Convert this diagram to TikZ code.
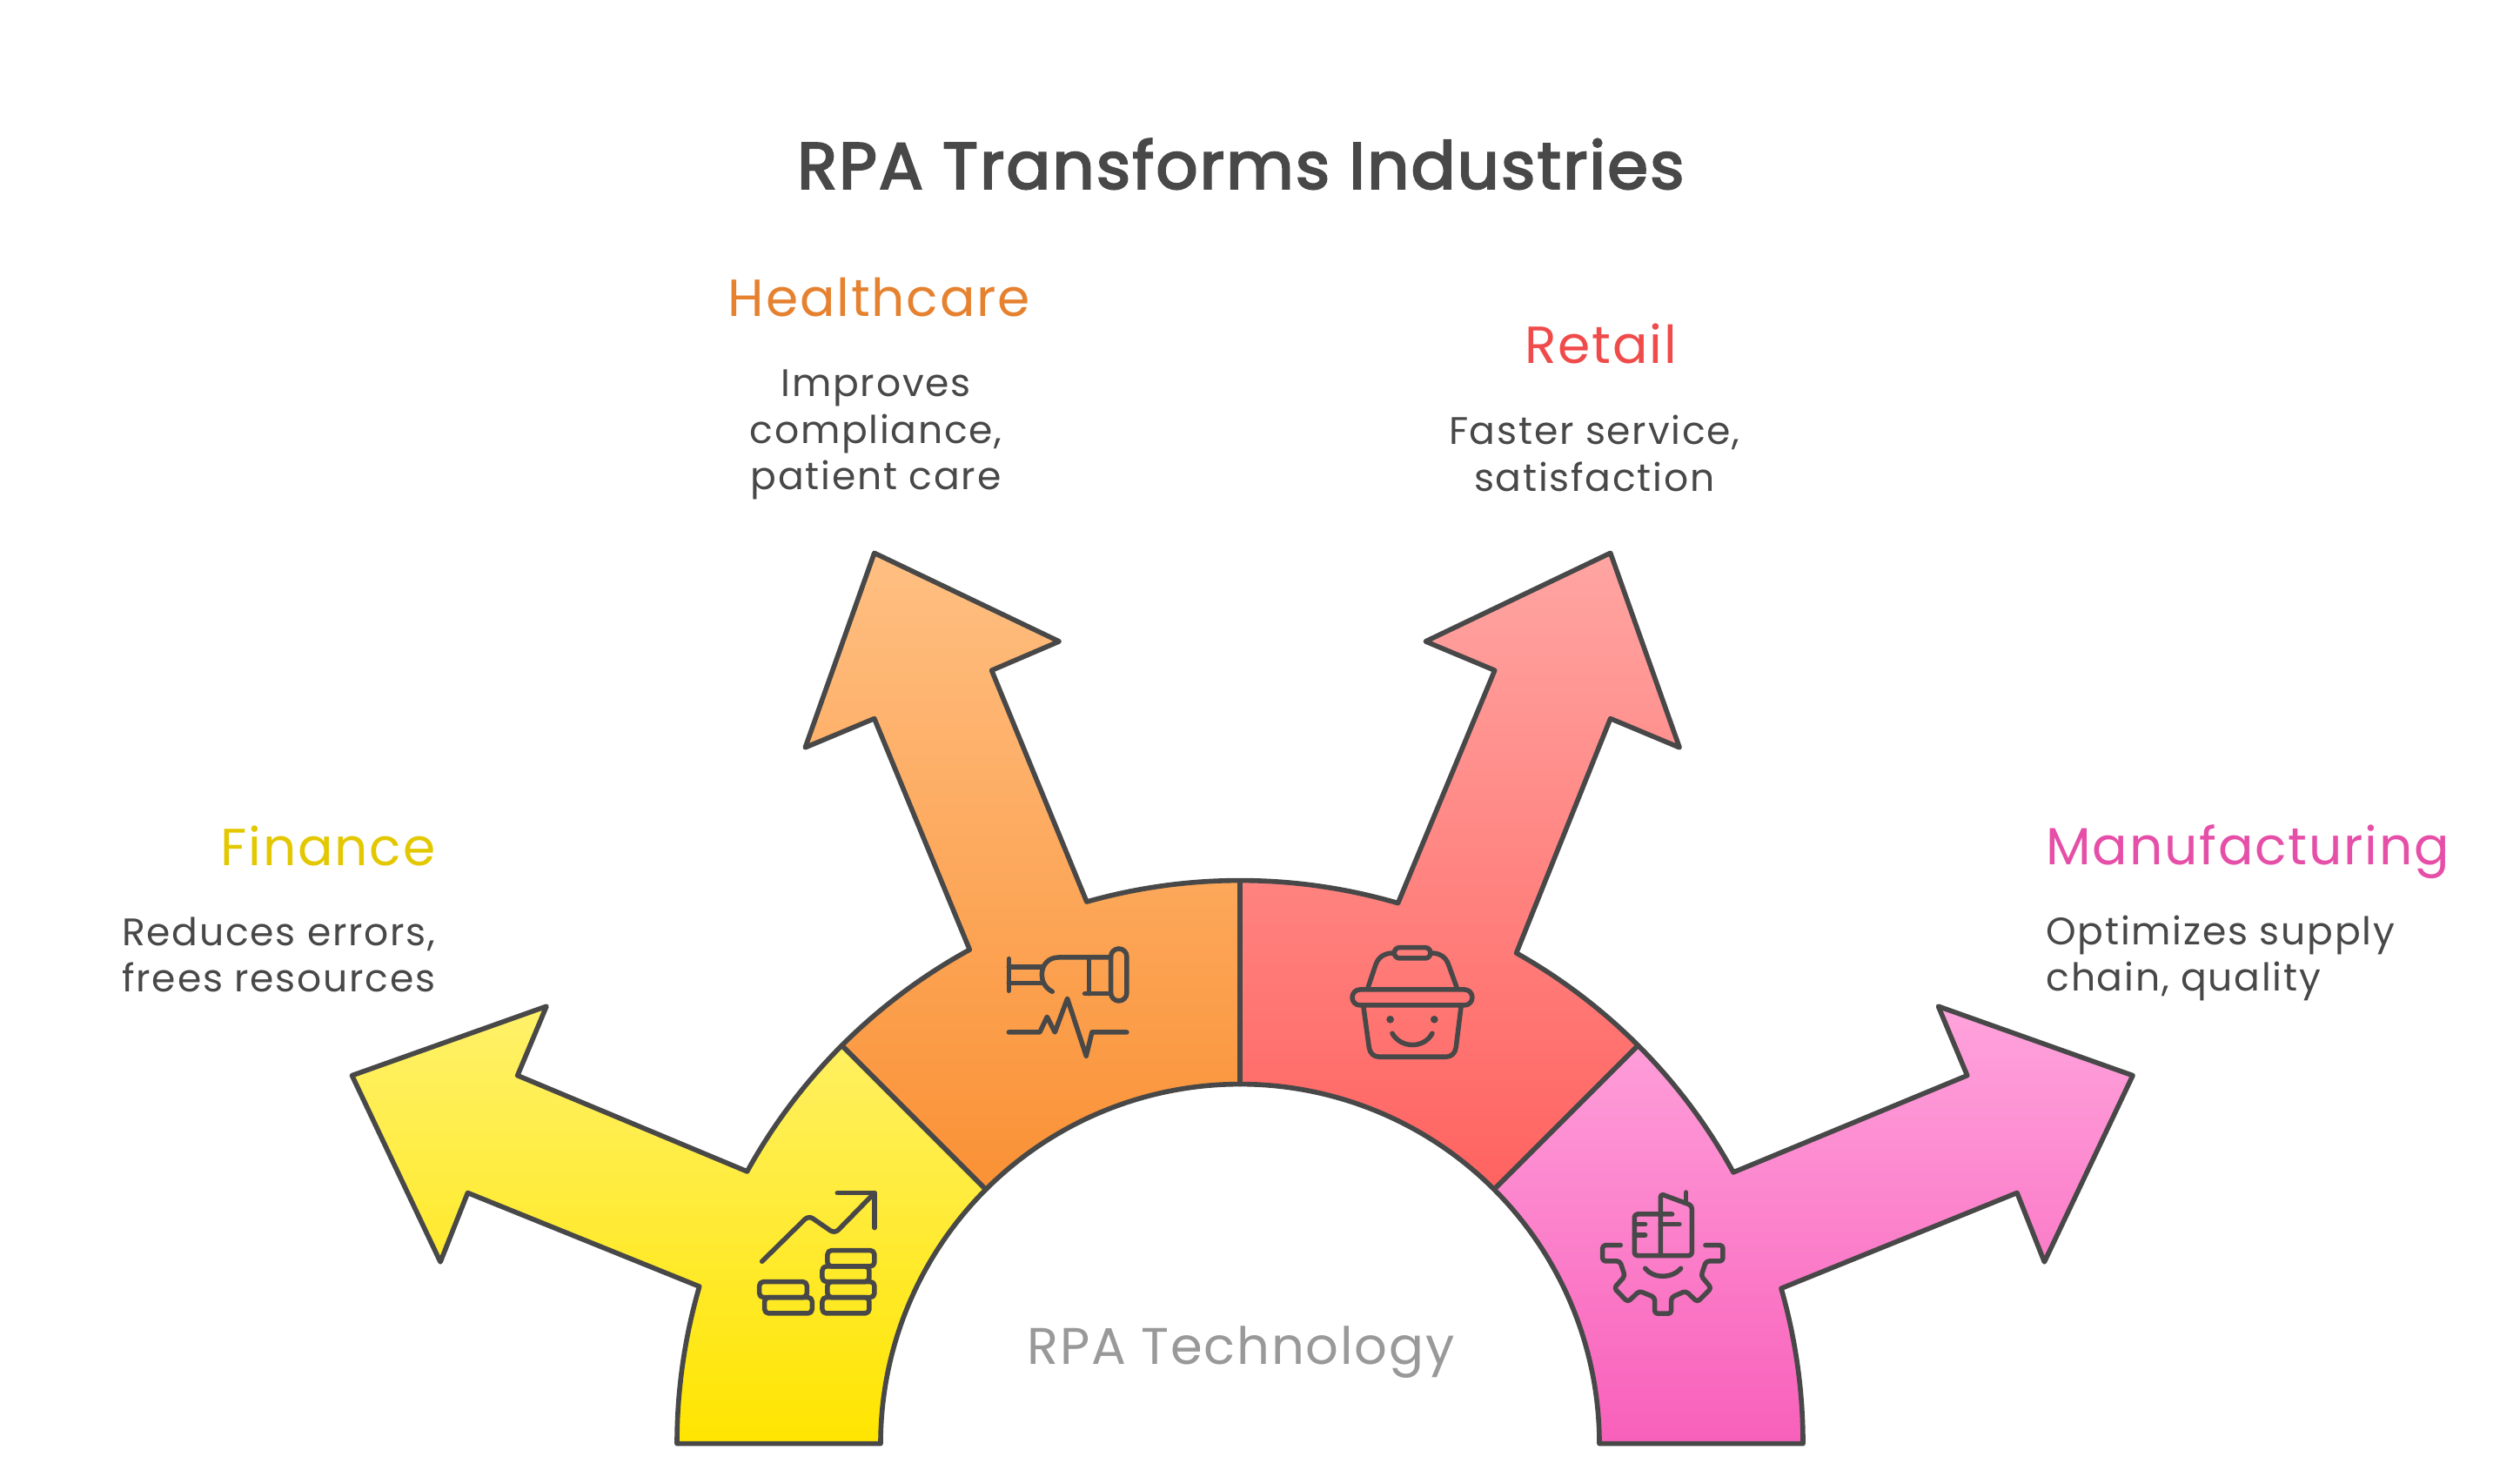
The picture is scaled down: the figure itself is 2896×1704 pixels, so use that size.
\documentclass[tikz,border=0pt]{standalone}
\usepackage{fontspec}
\setmainfont{Poppins}
\newfontfamily\titlef[FakeBold=3,LetterSpace=3]{Poppins}
\newfontfamily\headf[LetterSpace=3]{Poppins}
\newfontfamily\descf[LetterSpace=4]{Poppins}
\definecolor{ink}{HTML}{484848}
\definecolor{greyt}{HTML}{999999}
\definecolor{yellowt}{HTML}{E3C800}
\definecolor{oranget}{HTML}{E5812F}
\definecolor{redt}{HTML}{F04B4B}
\definecolor{pinkt}{HTML}{E64FA8}
\definecolor{yt}{HTML}{FFF16A}\definecolor{yb}{HTML}{FFE500}
\definecolor{ot}{HTML}{FFBF82}\definecolor{ob}{HTML}{FA9135}
\definecolor{rt}{HTML}{FFA5A2}\definecolor{rb}{HTML}{FF6360}
\definecolor{pt}{HTML}{FFA3DC}\definecolor{pb}{HTML}{F860BA}
\tikzset{
  piece/.style={draw=ink,line width=4.8pt,line join=round},
  icon/.style={draw=ink,line width=4.7pt,line join=round,line cap=round},
  heading/.style={inner sep=0pt,font=\headf\fontsize{51.2}{55}\selectfont},
  desc/.style={inner sep=0pt,text=ink,font=\descf\fontsize{37.6}{45.7}\selectfont},
}
\def\s{1.847}
\begin{document}
\begin{tikzpicture}[x=0.03cm,y=0.03cm]
\useasboundingbox (0,0) rectangle (2896,1704);
\fill[white] (0,0) rectangle (2896,1704);
% arrow outline points (reference position, scaled)
\coordinate (f1) at ({\s*291},{1704-\s*742});
\coordinate (f2) at ({\s*274},{1704-\s*785});
\coordinate (f3) at ({\s*219},{1704-\s*669});
\coordinate (f4) at ({\s*340},{1704-\s*626});
\coordinate (f5) at ({\s*322},{1704-\s*669});
\coordinate (h1) at ({\s*544},{1704-\s*447});
\coordinate (h2) at ({\s*501},{1704-\s*465});
\coordinate (h3) at ({\s*544},{1704-\s*344});
\coordinate (h4) at ({\s*659},{1704-\s*399});
\coordinate (h5) at ({\s*617},{1704-\s*417});
\coordinate (r1) at ({\s*930},{1704-\s*417});
\coordinate (r2) at ({\s*887},{1704-\s*399});
\coordinate (r3) at ({\s*1002},{1704-\s*344});
\coordinate (r4) at ({\s*1045},{1704-\s*465});
\coordinate (r5) at ({\s*1002},{1704-\s*447});
\coordinate (m1) at ({\s*1224},{1704-\s*669});
\coordinate (m2) at ({\s*1206},{1704-\s*626});
\coordinate (m3) at ({\s*1327},{1704-\s*669});
\coordinate (m4) at ({\s*1272},{1704-\s*785});
\coordinate (m5) at ({\s*1255},{1704-\s*742});
\begin{scope}[shift={(1425,45.4)}]
\draw[piece,top color=yt,bottom color=yb]
  (180:647) arc[start angle=180,end angle=163.8,radius=647]
  -- (f1) -- (f2) -- (f3) -- (f4) -- (f5)
  -- (151.1:647) arc[start angle=151.1,end angle=135,radius=647]
  -- (135:413) arc[start angle=135,end angle=180,radius=413] -- cycle;
\draw[piece,top color=ot,bottom color=ob]
  (135:647) arc[start angle=135,end angle=118.7,radius=647]
  -- (h1) -- (h2) -- (h3) -- (h4) -- (h5)
  -- (105.8:647) arc[start angle=105.8,end angle=90,radius=647]
  -- (90:413) arc[start angle=90,end angle=135,radius=413] -- cycle;
\draw[piece,top color=rt,bottom color=rb]
  (90:647) arc[start angle=90,end angle=73.7,radius=647]
  -- (r1) -- (r2) -- (r3) -- (r4) -- (r5)
  -- (60.6:647) arc[start angle=60.6,end angle=45,radius=647]
  -- (45:413) arc[start angle=45,end angle=90,radius=413] -- cycle;
\draw[piece,top color=pt,bottom color=pb]
  (45:647) arc[start angle=45,end angle=28.8,radius=647]
  -- (m1) -- (m2) -- (m3) -- (m4) -- (m5)
  -- (16:647) arc[start angle=16,end angle=0,radius=647]
  -- (0:413) arc[start angle=0,end angle=45,radius=413] -- cycle;
\end{scope}
% finance icon
\begin{scope}[shift={(840,364)},x=0.01cm,y=-0.01cm]
\draw[icon,rounded corners=5pt] (107,328) -- (268,170) -- (358,232) -- (495,92);
\draw[icon] (367,92) -- (495,92) -- (495,212);
\draw[icon,rounded corners=4pt] (333,290) rectangle (495,345);
\draw[icon,rounded corners=4pt] (315,345) rectangle (477,398);
\draw[icon,rounded corners=4pt] (333,398) rectangle (495,452);
\draw[icon,rounded corners=4pt] (315,452) rectangle (477,507);
\draw[icon,rounded corners=4pt] (98,398) rectangle (262,452);
\draw[icon,rounded corners=4pt] (116,452) rectangle (280,507);
\end{scope}
% healthcare icon
\begin{scope}[shift={(1100,654)},x=0.01cm,y=-0.01cm]
\draw[icon] (178,155) -- (178,265) (178,183) -- (295,183) (178,238) -- (295,238);
\draw[icon] (328,268) .. controls (303,255) and (292,232) .. (292,210) .. controls (292,175) and (315,150) .. (350,150) -- (530,150);
\draw[icon] (455,150) -- (455,275) (440,275) -- (530,275);
\draw[icon,rounded corners=7.8pt] (530,120) rectangle (585,300);
\draw[icon] (178,408) -- (285,408) -- (310,355) -- (337,408) -- (380,292) -- (445,490) -- (465,408) -- (585,408);
\end{scope}
% retail icon
\begin{scope}[shift={(1520,644)},x=0.01cm,y=-0.01cm]
\draw[icon,rounded corners=5.2pt] (247,86) rectangle (372,123);
\draw[icon] (157,222) -- (183,145) .. controls (192,118) and (215,105) .. (243,105);
\draw[icon] (375,105) .. controls (403,105) and (425,118) .. (434,145) -- (462,222);
\draw[icon,rounded corners=7.6pt] (102,231) rectangle (516,285);
\draw[icon] (140,285) -- (160,430) .. controls (163,450) and (175,463) .. (195,463) -- (425,463) .. controls (445,463) and (457,450) .. (460,430) -- (478,285);
\fill[ink] (233,334) circle[radius=13];
\fill[ink] (385,334) circle[radius=13];
\draw[icon] (240,382) .. controls (270,435) and (350,435) .. (378,382);
\end{scope}
% manufacturing icon
\begin{scope}[shift={(1800,364)},x=0.01cm,y=-0.01cm]
\draw[icon,rounded corners=3pt] (365,165) -- (235,165) -- (235,308) -- (433,308) -- (433,135) -- (325,95) -- (325,308);
\draw[icon] (235,200) -- (272,200) (235,237) -- (272,237) (325,200) -- (390,200) (413,90) -- (413,125);
\draw[icon,rounded corners=3pt] (187,272) -- (125,272) -- (125,327) -- (185,327) -- (202,378) -- (165,420) -- (212,468) -- (252,430) -- (305,452) -- (305,508) -- (362,508) -- (362,452) -- (412,430) -- (452,468) -- (500,420) -- (465,378) -- (482,327) -- (540,327) -- (540,272) -- (480,272);
\draw[icon] (272,352) .. controls (300,388) and (365,388) .. (395,352);
\end{scope}
% texts
\node[inner sep=0pt,text=ink,font=\titlef\fontsize{64.2}{66}\selectfont] (title) at ({\s*772},{1704-\s*102}) {RPA Transforms Industries};
\node[heading,text=yellowt,anchor=east] (fin) at ({\s*271},{1704-\s*526}) {Finance};
\node[desc,anchor=east,align=right] (find) at ({\s*271},{1704-\s*594}) {Reduces errors,\\frees resources};
\node[heading,text=oranget] (hea) at ({\s*547},{1704-\s*185}) {Healthcare};
\node[desc,align=center] (head) at ({\s*545},{1704-\s*270.5}) {Improves\\compliance,\\patient care};
\node[heading,text=redt] (ret) at ({\s*996},{1704-\s*214}) {Retail};
\node[desc,align=center] (retd) at ({\s*992},{1704-\s*282}) {Faster service,\\satisfaction};
\node[heading,text=pinkt,anchor=west] (man) at ({\s*1273},{1704-\s*530}) {Manufacturing};
\node[desc,anchor=west,align=left] (mand) at ({\s*1273},{1704-\s*596}) {Optimizes supply\\chain, quality};
\node[inner sep=0pt,text=greyt,font=\headf\fontsize{50.5}{55}\selectfont] (tech) at ({\s*772},{1704-\s*841}) {RPA Technology};
\end{tikzpicture}
\end{document}
